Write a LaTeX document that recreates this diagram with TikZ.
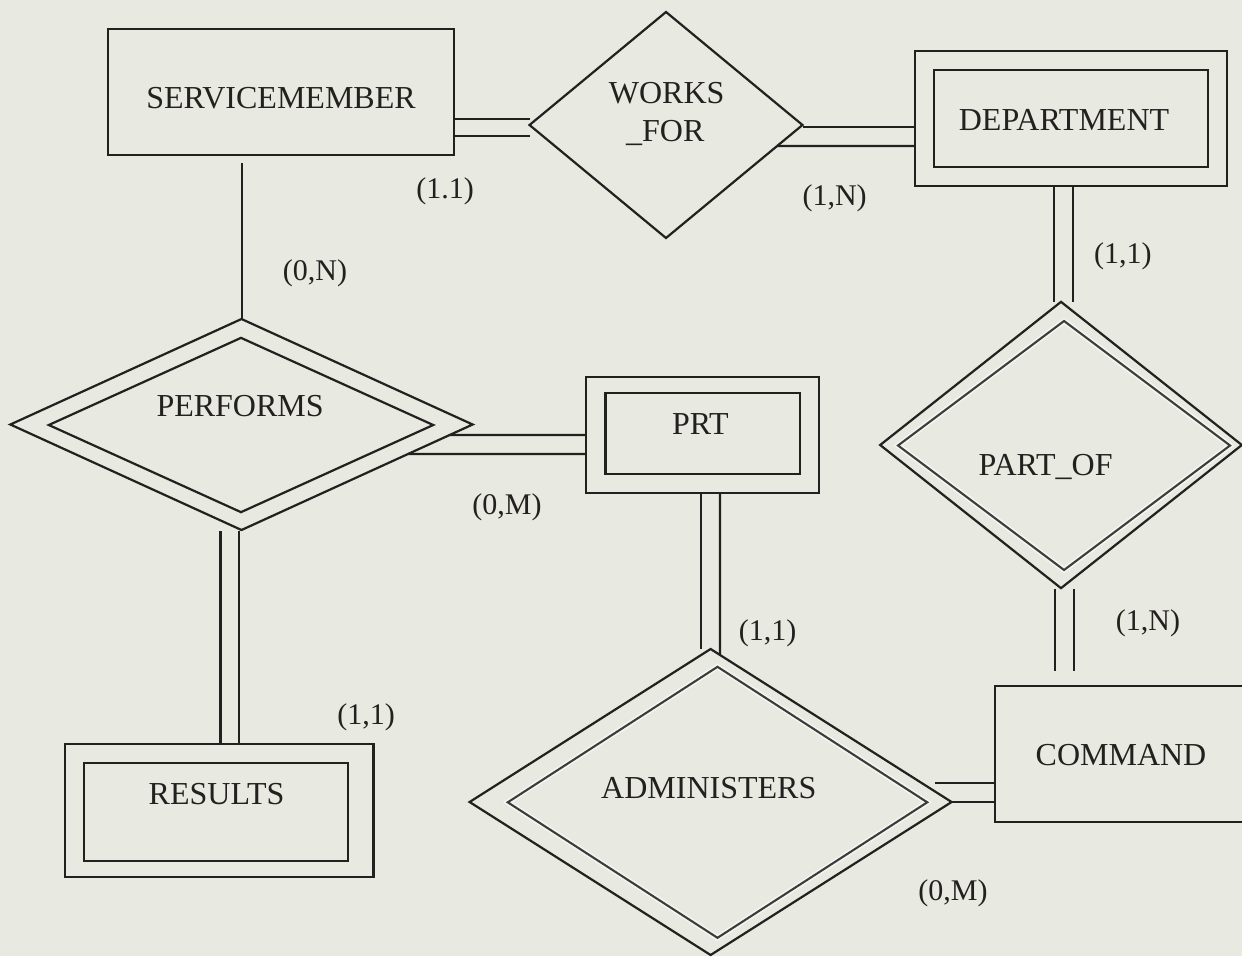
\documentclass[tikz,border=0pt]{standalone}
\usepackage{fontspec}
\setmainfont{Liberation Serif}
\usetikzlibrary{shapes.geometric,calc}

\definecolor{paper}{RGB}{232,233,224}
\definecolor{ink}{RGB}{35,32,32}
\definecolor{inkgray}{RGB}{60,60,58}
\definecolor{glow}{RGB}{244,244,240}

\tikzset{
  entity/.style={draw=ink, rectangle, inner sep=0pt, outer sep=0pt, line width=2.2pt},
  rel/.style={draw=ink, diamond, inner sep=0pt, outer sep=0pt, line width=2.2pt},
  softrel/.style={draw=inkgray, diamond, inner sep=0pt, outer sep=0pt, line width=2.1pt,
    preaction={draw=glow, line width=5.5pt}},
  title/.style={font=\fontsize{32}{38}\selectfont, text=ink, anchor=base, inner sep=0pt},
  card/.style={font=\fontsize{30}{36}\selectfont, text=ink, anchor=base, inner sep=0pt},
  link/.style={draw=ink, line width=2.2pt}
}

\begin{document}
\begin{tikzpicture}[x=1pt,y=-1pt]
\useasboundingbox (0,0) rectangle (1242,956);
\fill[paper] (0,0) rectangle (1242,956);
\begin{scope}
\clip (0,0) rectangle (1242,956);

% entities
\node[entity, minimum width=346pt, minimum height=126pt] (sm) at (281,92) {};
\node[entity, minimum width=312pt, minimum height=135pt] (dept) at (1070.6,118.4) {};
\node[entity, minimum width=274pt, minimum height=97pt] (deptin) at (1071,118.5) {};
\node[entity, minimum width=233pt, minimum height=116pt] (prt) at (702.5,435) {};
\node[entity, minimum width=194.5pt, minimum height=81pt] (prtin) at (702.75,433.5) {};
\node[entity, minimum width=308.5pt, minimum height=132.7pt] (results) at (219.25,810.35) {};
\node[entity, minimum width=264pt, minimum height=97.7pt] (resultsin) at (216,811.85) {};
\node[entity, minimum width=305pt, minimum height=136pt] (cmd) at (1147.5,754) {};

% relationships
\node[rel, minimum width=273pt, minimum height=226pt] (wf) at (666,125) {};
\node[rel, minimum width=462.3pt, minimum height=211pt] (pf) at (241.5,424.5) {};
\node[rel, minimum width=384.4pt, minimum height=174.3pt] (pfin) at (241,425) {};
\node[rel, minimum width=361.7pt, minimum height=286.3pt] (po) at (1061,445) {};
\node[softrel, minimum width=332pt, minimum height=249pt] (poin) at (1064,445.5) {};
\node[rel, minimum width=482pt, minimum height=306pt] (ad) at (710.6,802) {};
\node[softrel, minimum width=419.5pt, minimum height=271pt] (adin) at (717.5,802.3) {};

% SERVICEMEMBER = WORKS_FOR
\coordinate (a1) at ($(sm.east)+(0,27.3)$);
\coordinate (a2) at ($(sm.east)+(0,44)$);
\draw[link] (a1) -- (a1 -| wf.west);
\draw[link] (a2) -- (a2 -| wf.west);

% WORKS_FOR = DEPARTMENT
\coordinate (b1) at ($(dept.west)+(0,8.6)$);
\coordinate (b2) at ($(dept.west)+(0,27.6)$);
\coordinate (b2w) at (b2 -| wf.center);
\draw[link] (b1 -| wf.east) -- (b1);
\draw[link] (intersection of wf.east--wf.south and b2--b2w) -- (b2);

% DEPARTMENT = PART_OF
\coordinate (c1) at ($(dept.south)+(-16.6,0)$);
\coordinate (c2) at ($(dept.south)+(2,0)$);
\draw[link] (c1) -- (c1 |- po.north);
\draw[link] (c2) -- (c2 |- po.north);

% SERVICEMEMBER - PERFORMS
\coordinate (d1) at ($(sm.south)+(-39,8)$);
\draw[link] (d1) -- (d1 |- pf.north);

% PERFORMS = PRT
\coordinate (e1) at (prt.west);
\coordinate (e2) at ($(prt.west)+(0,19)$);
\coordinate (e2c) at (e2 -| prt.center);
\draw[link] (intersection of pf.east--pf.south and e1--prt.center) -- (e1);
\draw[link] (intersection of pf.east--pf.south and e2--e2c) -- (e2);

% PERFORMS = RESULTS
\coordinate (f1) at ($(results.north)+(1.25,0)$);
\coordinate (f2) at ($(results.north)+(19.75,0)$);
\draw[link] ($(f1 |- pf.south)+(0,1)$) -- (f1);
\draw[link] ($(f2 |- pf.south)+(0,1)$) -- (f2);

% PRT = ADMINISTERS
\coordinate (g1) at ($(prt.south)+(-1.5,0)$);
\coordinate (g2) at ($(prt.south)+(17.5,0)$);
\coordinate (g1e) at (g1 |- ad.north);
\coordinate (g2e) at ($(g2 |- ad.north)+(0,20)$);
\draw[link] (g1) -- (g1e);
\draw[link] (g2) -- (intersection of ad.north--ad.east and g2--g2e);

% PART_OF = COMMAND
\coordinate (h1) at ($(po.south)+(-6,1)$);
\coordinate (h2) at ($(po.south)+(13,1)$);
\coordinate (h1e) at (h1 |- cmd.north);
\coordinate (h2e) at (h2 |- cmd.north);
\draw[link] (h1) -- ($(h1e)+(0,-15)$);
\draw[link] (h2) -- ($(h2e)+(0,-15)$);

% ADMINISTERS = COMMAND
\coordinate (k1) at ($(cmd.west)+(0,29)$);
\coordinate (k2) at ($(cmd.west)+(0,48)$);
\coordinate (k1s) at (k1 -| ad.east);
\draw[link] ($(k1s)+(-16.5,0)$) -- (k1);
\draw[link] (k2 -| ad.east) -- (k2);
\end{scope}

% names
\node[title] (smt) at (281,108) {SERVICEMEMBER};
\node[title] (wft) at (666.7,103.3) {WORKS};
\node[title] (wfu) at (665.3,141.7) {\_FOR};
\node[title] (deptt) at (1064,130) {DEPARTMENT};
\node[title] (pft) at (240.1,416.7) {PERFORMS};
\node[title] (prtt) at (700.4,434) {PRT};
\node[title] (pot) at (1045.6,475) {PART\_OF};
\node[title] (resultst) at (216.6,804) {RESULTS};
\node[title] (adt) at (708.8,798) {ADMINISTERS};
\node[title] (cmdt) at (1121,765) {COMMAND};

% cardinalities
\node[card] (l1) at (445,198.7) {(1.1)};
\node[card] (l2) at (834.6,205) {(1,N)};
\node[card] (l3) at (1122.8,263) {(1,1)};
\node[card] (l4) at (315,280) {(0,N)};
\node[card] (l5) at (507,514) {(0,M)};
\node[card] (l6) at (767.6,640.8) {(1,1)};
\node[card] (l7) at (1148,630.8) {(1,N)};
\node[card] (l8) at (366,724) {(1,1)};
\node[card] (l9) at (953,900) {(0,M)};
\end{tikzpicture}
\end{document}
